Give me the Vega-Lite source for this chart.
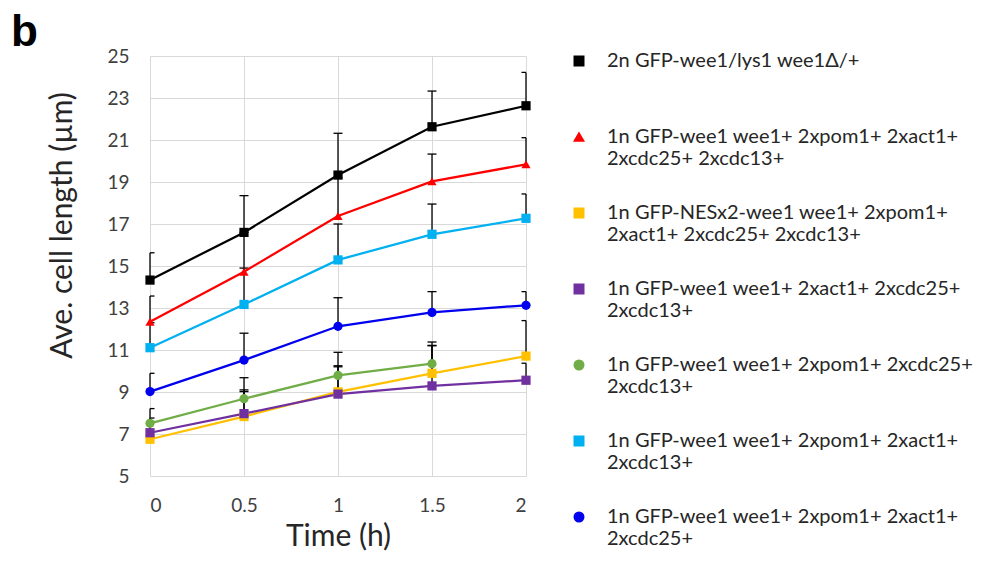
{
  "$schema": "https://vega.github.io/schema/vega-lite/v6.json",
  "autosize": {"type": "none"},
  "width": 376,
  "height": 420,
  "padding": {"left": 150, "top": 56, "right": 458, "bottom": 93},
  "background": "white",
  "title": {
    "text": "b",
    "anchor": "start",
    "frame": "group",
    "font": "Liberation Sans",
    "fontSize": 44,
    "fontWeight": "bold",
    "color": "#000000",
    "baseline": "alphabetic",
    "offset": 11,
    "dx": -139,
    "dy": 54
  },
  "data": {
    "values": [
      {"strain": "2n GFP-wee1/lys1 wee1Δ/+|", "t": 0, "mean": 14.33, "upper": 15.63},
      {"strain": "2n GFP-wee1/lys1 wee1Δ/+|", "t": 0.5, "mean": 16.6, "upper": 18.35},
      {"strain": "2n GFP-wee1/lys1 wee1Δ/+|", "t": 1, "mean": 19.33, "upper": 21.32},
      {"strain": "2n GFP-wee1/lys1 wee1Δ/+|", "t": 1.5, "mean": 21.63, "upper": 23.33},
      {"strain": "2n GFP-wee1/lys1 wee1Δ/+|", "t": 2, "mean": 22.63, "upper": 24.22},
      {"strain": "1n GFP-wee1 wee1+ 2xpom1+ 2xact1+|2xcdc25+ 2xcdc13+", "t": 0, "mean": 12.35, "upper": 13.57},
      {"strain": "1n GFP-wee1 wee1+ 2xpom1+ 2xact1+|2xcdc25+ 2xcdc13+", "t": 0.5, "mean": 14.73, "upper": 16.6},
      {"strain": "1n GFP-wee1 wee1+ 2xpom1+ 2xact1+|2xcdc25+ 2xcdc13+", "t": 1, "mean": 17.38, "upper": 19.2},
      {"strain": "1n GFP-wee1 wee1+ 2xpom1+ 2xact1+|2xcdc25+ 2xcdc13+", "t": 1.5, "mean": 19.03, "upper": 20.33},
      {"strain": "1n GFP-wee1 wee1+ 2xpom1+ 2xact1+|2xcdc25+ 2xcdc13+", "t": 2, "mean": 19.84, "upper": 21.11},
      {"strain": "1n GFP-NESx2-wee1 wee1+ 2xpom1+|2xact1+ 2xcdc25+ 2xcdc13+", "t": 0, "mean": 6.75, "upper": 7.6},
      {"strain": "1n GFP-NESx2-wee1 wee1+ 2xpom1+|2xact1+ 2xcdc25+ 2xcdc13+", "t": 0.5, "mean": 7.83, "upper": 9.02},
      {"strain": "1n GFP-NESx2-wee1 wee1+ 2xpom1+|2xact1+ 2xcdc25+ 2xcdc13+", "t": 1, "mean": 9.01, "upper": 10.2},
      {"strain": "1n GFP-NESx2-wee1 wee1+ 2xpom1+|2xact1+ 2xcdc25+ 2xcdc13+", "t": 1.5, "mean": 9.89, "upper": 11.2},
      {"strain": "1n GFP-NESx2-wee1 wee1+ 2xpom1+|2xact1+ 2xcdc25+ 2xcdc13+", "t": 2, "mean": 10.71, "upper": 12.4},
      {"strain": "1n GFP-wee1 wee1+ 2xact1+ 2xcdc25+|2xcdc13+", "t": 0, "mean": 7.06, "upper": 7.76},
      {"strain": "1n GFP-wee1 wee1+ 2xact1+ 2xcdc25+|2xcdc13+", "t": 0.5, "mean": 7.97, "upper": 9.1},
      {"strain": "1n GFP-wee1 wee1+ 2xact1+ 2xcdc25+|2xcdc13+", "t": 1, "mean": 8.9, "upper": 10.25},
      {"strain": "1n GFP-wee1 wee1+ 2xact1+ 2xcdc25+|2xcdc13+", "t": 1.5, "mean": 9.29, "upper": 11.22},
      {"strain": "1n GFP-wee1 wee1+ 2xact1+ 2xcdc25+|2xcdc13+", "t": 2, "mean": 9.56, "upper": 10.37},
      {"strain": "1n GFP-wee1 wee1+ 2xpom1+ 2xcdc25+|2xcdc13+", "t": 0, "mean": 7.51, "upper": 8.21},
      {"strain": "1n GFP-wee1 wee1+ 2xpom1+ 2xcdc25+|2xcdc13+", "t": 0.5, "mean": 8.68, "upper": 9.68},
      {"strain": "1n GFP-wee1 wee1+ 2xpom1+ 2xcdc25+|2xcdc13+", "t": 1, "mean": 9.79, "upper": 10.89},
      {"strain": "1n GFP-wee1 wee1+ 2xpom1+ 2xcdc25+|2xcdc13+", "t": 1.5, "mean": 10.35, "upper": 11.38},
      {"strain": "1n GFP-wee1 wee1+ 2xpom1+ 2xact1+|2xcdc13+", "t": 0, "mean": 11.11, "upper": 12.3},
      {"strain": "1n GFP-wee1 wee1+ 2xpom1+ 2xact1+|2xcdc13+", "t": 0.5, "mean": 13.17, "upper": 14.9},
      {"strain": "1n GFP-wee1 wee1+ 2xpom1+ 2xact1+|2xcdc13+", "t": 1, "mean": 15.29, "upper": 17.0},
      {"strain": "1n GFP-wee1 wee1+ 2xpom1+ 2xact1+|2xcdc13+", "t": 1.5, "mean": 16.51, "upper": 17.95},
      {"strain": "1n GFP-wee1 wee1+ 2xpom1+ 2xact1+|2xcdc13+", "t": 2, "mean": 17.27, "upper": 18.43},
      {"strain": "1n GFP-wee1 wee1+ 2xpom1+ 2xact1+|2xcdc25+", "t": 0, "mean": 9.02, "upper": 9.89},
      {"strain": "1n GFP-wee1 wee1+ 2xpom1+ 2xact1+|2xcdc25+", "t": 0.5, "mean": 10.52, "upper": 11.8},
      {"strain": "1n GFP-wee1 wee1+ 2xpom1+ 2xact1+|2xcdc25+", "t": 1, "mean": 12.13, "upper": 13.49},
      {"strain": "1n GFP-wee1 wee1+ 2xpom1+ 2xact1+|2xcdc25+", "t": 1.5, "mean": 12.79, "upper": 13.78},
      {"strain": "1n GFP-wee1 wee1+ 2xpom1+ 2xact1+|2xcdc25+", "t": 2, "mean": 13.13, "upper": 13.78}
    ]
  },
  "encoding": {
    "x": {
      "field": "t",
      "type": "quantitative",
      "scale": {"domain": [0, 2], "nice": false, "zero": false},
      "axis": {
        "values": [0, 0.5, 1, 1.5, 2],
        "format": "~g",
        "title": "Time (h)",
        "labelPadding": 20,
        "titlePadding": 6
      }
    }
  },
  "layer": [
    {
      "mark": {"type": "rule", "color": "#000000", "strokeWidth": 1.3},
      "encoding": {
        "y": {
          "field": "mean",
          "type": "quantitative",
          "scale": {"domain": [5, 25], "nice": false, "zero": false},
          "axis": {
            "values": [5, 7, 9, 11, 13, 15, 17, 19, 21, 23, 25],
            "format": "d",
            "title": "Ave. cell length (µm)",
            "labelPadding": 21,
            "titleX": -73,
            "titleY": 169
          }
        },
        "y2": {"field": "upper"}
      }
    },
    {
      "mark": {"type": "point", "shape": "stroke", "size": 81, "color": "#000000", "strokeWidth": 1.3, "filled": false, "opacity": 1, "clip": true},
      "encoding": {"y": {"field": "upper", "type": "quantitative"}}
    },
    {
      "mark": {"type": "line", "strokeWidth": 2.25},
      "encoding": {
        "y": {"field": "mean", "type": "quantitative"},
        "color": {
          "field": "strain",
          "type": "nominal",
          "legend": {
            "title": null,
            "orient": "none",
            "legendX": 419,
            "legendY": -5,
            "symbolSize": 90,
            "labelExpr": "split(datum.label, '|')",
            "labelLimit": 0,
            "labelOffset": 18,
            "rowPadding": 34
          }
        }
      }
    },
    {
      "mark": {"type": "point", "filled": true, "opacity": 1, "size": 85},
      "encoding": {
        "y": {"field": "mean", "type": "quantitative"},
        "color": {
          "field": "strain",
          "type": "nominal",
          "scale": {
            "domain": [
              "2n GFP-wee1/lys1 wee1Δ/+|",
              "1n GFP-wee1 wee1+ 2xpom1+ 2xact1+|2xcdc25+ 2xcdc13+",
              "1n GFP-NESx2-wee1 wee1+ 2xpom1+|2xact1+ 2xcdc25+ 2xcdc13+",
              "1n GFP-wee1 wee1+ 2xact1+ 2xcdc25+|2xcdc13+",
              "1n GFP-wee1 wee1+ 2xpom1+ 2xcdc25+|2xcdc13+",
              "1n GFP-wee1 wee1+ 2xpom1+ 2xact1+|2xcdc13+",
              "1n GFP-wee1 wee1+ 2xpom1+ 2xact1+|2xcdc25+"
            ],
            "range": ["#000000", "#ff0000", "#ffc000", "#7030a0", "#70ad47", "#00b0f0", "#0000ee"]
          },
          "legend": {
            "title": null,
            "orient": "none",
            "legendX": 419,
            "legendY": -5,
            "symbolSize": 90,
            "labelExpr": "split(datum.label, '|')",
            "labelLimit": 0,
            "labelOffset": 18,
            "rowPadding": 34
          }
        },
        "shape": {
          "field": "strain",
          "type": "nominal",
          "scale": {
            "domain": [
              "2n GFP-wee1/lys1 wee1Δ/+|",
              "1n GFP-wee1 wee1+ 2xpom1+ 2xact1+|2xcdc25+ 2xcdc13+",
              "1n GFP-NESx2-wee1 wee1+ 2xpom1+|2xact1+ 2xcdc25+ 2xcdc13+",
              "1n GFP-wee1 wee1+ 2xact1+ 2xcdc25+|2xcdc13+",
              "1n GFP-wee1 wee1+ 2xpom1+ 2xcdc25+|2xcdc13+",
              "1n GFP-wee1 wee1+ 2xpom1+ 2xact1+|2xcdc13+",
              "1n GFP-wee1 wee1+ 2xpom1+ 2xact1+|2xcdc25+"
            ],
            "range": ["square", "triangle-up", "square", "square", "circle", "square", "circle"]
          }
        }
      }
    }
  ],
  "config": {
    "view": {"stroke": null},
    "font": "Lato",
    "axis": {
      "grid": true,
      "gridColor": "#d9d9d9",
      "gridWidth": 1,
      "domain": false,
      "ticks": false,
      "labelFont": "Lato",
      "labelFontSize": 19,
      "labelColor": "#404040",
      "titleFont": "Lato",
      "titleFontSize": 30,
      "titleFontWeight": "normal",
      "titleColor": "#262626"
    },
    "legend": {
      "labelFont": "Lato",
      "labelFontSize": 20,
      "labelColor": "#262626"
    }
  }
}
